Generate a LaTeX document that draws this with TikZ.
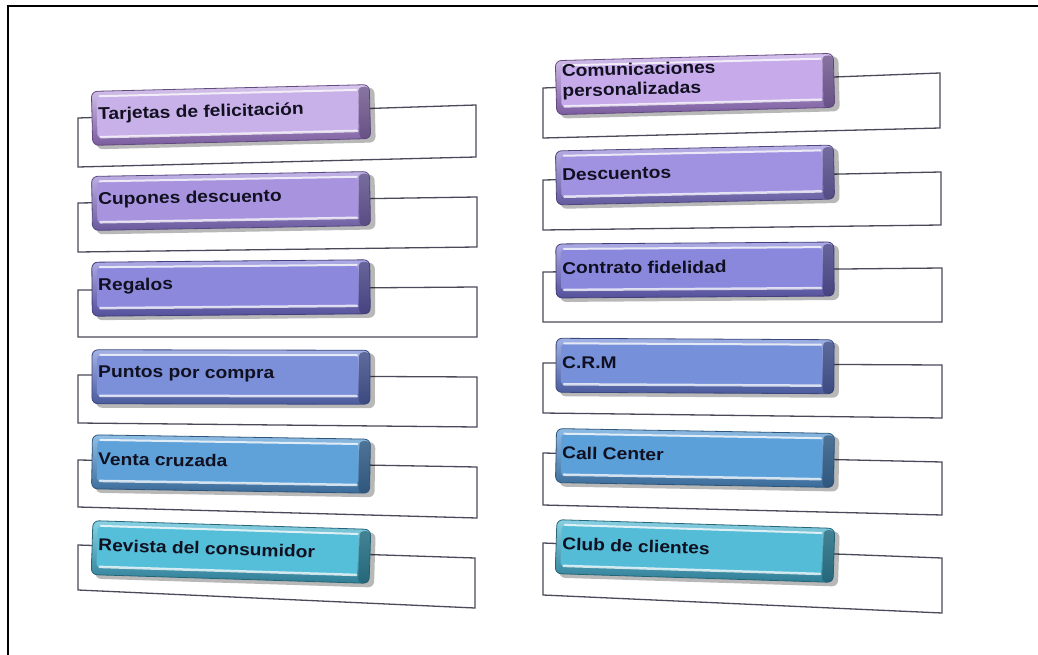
\documentclass[tikz,border=0pt]{standalone}
\usepackage{fontspec}
\setmainfont{Liberation Sans}
\definecolor{txtc}{HTML}{101020}
\definecolor{panelc}{HTML}{4A4A5A}
\definecolor{lAf}{HTML}{C8B0E8}\definecolor{lAe}{HTML}{7A5C9E}
\definecolor{lBf}{HTML}{A894DE}\definecolor{lBe}{HTML}{6A5A9E}
\definecolor{lCf}{HTML}{8C88DC}\definecolor{lCe}{HTML}{54509A}
\definecolor{lDf}{HTML}{7C90DA}\definecolor{lDe}{HTML}{4A5A9C}
\definecolor{lEf}{HTML}{5FA2DA}\definecolor{lEe}{HTML}{3A6A98}
\definecolor{lFf}{HTML}{55BED8}\definecolor{lFe}{HTML}{2E7E96}
\definecolor{rAf}{HTML}{C6AAEA}\definecolor{rAe}{HTML}{7A5C9E}
\definecolor{rBf}{HTML}{A092E0}\definecolor{rBe}{HTML}{625A9E}
\definecolor{rCf}{HTML}{8A88DC}\definecolor{rCe}{HTML}{54509A}
\definecolor{rDf}{HTML}{7690DA}\definecolor{rDe}{HTML}{4A5A9C}
\definecolor{rEf}{HTML}{5CA0DA}\definecolor{rEe}{HTML}{3A6A98}
\definecolor{rFf}{HTML}{55BCD8}\definecolor{rFe}{HTML}{2E7E96}
\tikzset{
  panel/.style={fill=white, draw=panelc, line width=1.3pt, line join=miter},
  boxbody/.style={rounded corners=6pt, minimum width=278pt, minimum height=54pt, inner sep=0pt, transform shape},
  lbl/.style={font=\fontsize{17}{20}\selectfont\bfseries, text=txtc, anchor=west, inner sep=0pt, transform shape, xscale=1.13, align=left},
  frameline/.style={line width=2.5pt, black},
}
\newcommand\entrybox[8]{%
\begin{scope}[shift={(#2,#3)}, rotate=#4]
  \fill[black, opacity=0.28, rounded corners=6pt] (-135,-24) rectangle (144,31);
  \node[boxbody, top color=#5!70!white, bottom color=#6, draw=#6!80!black, line width=0.8pt] (#1) at (0,0) {};
  \fill[#5, rounded corners=3pt] (-134,-21) rectangle (127,19);
  \draw[white, opacity=0.75, line width=2pt, line cap=round] (-131,-22) -- (126,-22);
  \draw[white, opacity=0.75, line width=2.5pt, line cap=round] (-131,19) -- (126,19);
  \fill[#6!70!black, opacity=0.6, rounded corners=4pt] (128,-25) rectangle (139,27);
  \node[lbl] (#1-t) at (-133,#8) {#7};
\end{scope}}
\begin{document}
\begin{tikzpicture}[x=1pt, y=-1pt]
\useasboundingbox (0,0) rectangle (1038,655);
\fill[white] (0,0) rectangle (1038,655);
\draw[frameline] (8,655) -- (8,6) -- (1038,6);
% panels left
\draw[panel] (78,118) -- (476,105) -- (476,157) -- (78,167) -- cycle;
\draw[panel] (78,203) -- (477,197) -- (477,247) -- (78,252) -- cycle;
\draw[panel] (78,290) -- (477,287) -- (477,337) -- (78,337) -- cycle;
\draw[panel] (78,375) -- (477,377) -- (477,427) -- (78,423) -- cycle;
\draw[panel] (78,460) -- (477,467) -- (477,518) -- (78,507) -- cycle;
\draw[panel] (78,545) -- (475,558) -- (475,608) -- (78,590) -- cycle;
% panels right
\draw[panel] (543,88) -- (940,73) -- (940,128) -- (543,138) -- cycle;
\draw[panel] (543,180) -- (941,172) -- (941,225) -- (543,230) -- cycle;
\draw[panel] (543,272) -- (942,268) -- (942,322) -- (543,322) -- cycle;
\draw[panel] (543,363) -- (942,365) -- (942,418) -- (543,413) -- cycle;
\draw[panel] (543,453) -- (942,462) -- (942,515) -- (543,505) -- cycle;
\draw[panel] (543,543) -- (942,558) -- (942,613) -- (543,595) -- cycle;
% boxes left
\entrybox{tarjetas}{231}{115}{1.4}{lAf}{lAe}{Tarjetas de felicitación}{-3}
\entrybox{cupones}{231}{201}{1.0}{lBf}{lBe}{Cupones descuento}{-3}
\entrybox{regalos}{231}{288}{0.5}{lCf}{lCe}{Regalos}{-3}
\entrybox{puntos}{231}{377}{-0.1}{lDf}{lDe}{Puntos por compra}{-3}
\entrybox{venta}{231}{464}{-0.9}{lEf}{lEe}{Venta cruzada}{-3}
\entrybox{revista}{231}{552}{-1.8}{lFf}{lFe}{Revista del consumidor}{-3}
% boxes right
\entrybox{comunic}{695}{84}{1.5}{rAf}{rAe}{Comunicaciones\\personalizadas}{-5}
\entrybox{descuentos}{695}{175}{1.2}{rBf}{rBe}{Descuentos}{-3}
\entrybox{contrato}{695}{270}{0.4}{rCf}{rCe}{Contrato fidelidad}{-3}
\entrybox{crm}{695}{366}{-0.3}{rDf}{rDe}{C.R.M}{-3}
\entrybox{call}{695}{458}{-1.0}{rEf}{rEe}{Call Center}{-3}
\entrybox{club}{695}{551}{-1.8}{rFf}{rFe}{Club de clientes}{-3}
\end{tikzpicture}
\end{document}
